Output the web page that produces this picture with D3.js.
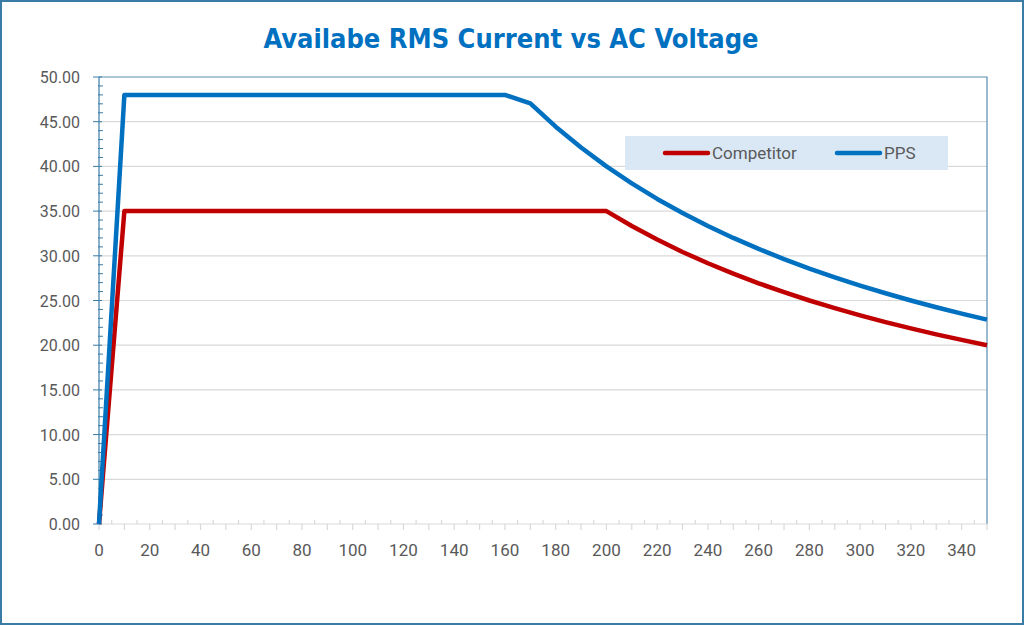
<!DOCTYPE html>
<html>
<head>
<meta charset="utf-8">
<script src="https://cdn.jsdelivr.net/npm/d3@7"></script>
<style>
  body { margin: 0; background: #fff; }
  text { font-family: Roboto, "Liberation Sans", sans-serif; }
</style>
</head>
<body>
<div id="chart"></div>
<script>
// data
var voltage = [0, 10, 20, 30, 40, 50, 60, 70, 80, 90, 100, 110, 120, 130, 140, 150, 160, 170, 180, 190,
  200, 210, 220, 230, 240, 250, 260, 270, 280, 290, 300, 310, 320, 330, 340, 350];
var competitor = [0, 35, 35, 35, 35, 35, 35, 35, 35, 35, 35, 35, 35, 35, 35, 35, 35, 35, 35, 35,
  35, 33.33, 31.82, 30.43, 29.17, 28, 26.92, 25.93, 25, 24.14, 23.33, 22.58, 21.88, 21.21, 20.59, 20];
var pps = [0, 48, 48, 48, 48, 48, 48, 48, 48, 48, 48, 48, 48, 48, 48, 48, 48, 47.06, 44.44, 42.11,
  40, 38.10, 36.36, 34.78, 33.33, 32, 30.77, 29.63, 28.57, 27.59, 26.67, 25.81, 25, 24.24, 23.53, 22.86];
var seriesNames = ["Competitor", "PPS"];
var seriesColors = ["#C00000", "#0070C0"];
var yTicks = [0, 5, 10, 15, 20, 25, 30, 35, 40, 45, 50];
var xTicks = [0, 20, 40, 60, 80, 100, 120, 140, 160, 180, 200, 220, 240, 260, 280, 300, 320, 340];

var width = 1024, height = 625;
var plotLeft = 99, plotRight = 987, plotTop = 77, plotBottom = 524;

var svg = d3.select("#chart").append("svg")
  .attr("width", width)
  .attr("height", height);

// outer frame
svg.append("rect")
  .attr("x", 1).attr("y", 1)
  .attr("width", width - 2).attr("height", height - 2)
  .attr("fill", "#fff")
  .attr("stroke", "#3A7CA5")
  .attr("stroke-width", 2);

svg.append("text")
  .attr("x", 511)
  .attr("y", 48)
  .attr("text-anchor", "middle")
  .style("font-family", "'Liberation Sans Narrow', 'DejaVu Sans Condensed', sans-serif")
  .style("font-weight", "bold")
  .style("font-size", "27px")
  .attr("fill", "#0070C0")
  .text("Availabe RMS Current vs AC Voltage");

var x = d3.scaleLinear().domain([0, 350]).range([plotLeft, plotRight]);
var y = d3.scaleLinear().domain([0, 50]).range([plotBottom, plotTop]);

// gridlines
svg.append("g")
  .selectAll("line")
  .data(yTicks.filter(d => d > 0 && d < 50))
  .enter().append("line")
  .attr("x1", plotLeft).attr("x2", plotRight)
  .attr("y1", d => y(d)).attr("y2", d => y(d))
  .attr("stroke", "#D9D9D9")
  .attr("stroke-width", 1.2);

// top and right border of plot
svg.append("path")
  .attr("d", `M${plotLeft},${y(50)}H${x(350)}V${y(0)}`)
  .attr("fill", "none")
  .attr("stroke", "#5B8DB0")
  .attr("stroke-width", 1.2);

// x axis: minor ticks inside every 5, major outside every 10
var xg = svg.append("g");
xg.append("line")
  .attr("x1", plotLeft).attr("x2", plotRight)
  .attr("y1", plotBottom).attr("y2", plotBottom)
  .attr("stroke", "#D9D9D9")
  .attr("stroke-width", 1.2);
xg.selectAll(".xmaj")
  .data(d3.range(0, 351, 10))
  .enter().append("line")
  .attr("x1", d => x(d)).attr("x2", d => x(d))
  .attr("y1", plotBottom).attr("y2", plotBottom + 6)
  .attr("stroke", "#D9D9D9")
  .attr("stroke-width", 1.2);
xg.selectAll(".xmin")
  .data(d3.range(5, 351, 10))
  .enter().append("line")
  .attr("x1", d => x(d)).attr("x2", d => x(d))
  .attr("y1", plotBottom - 4).attr("y2", plotBottom)
  .attr("stroke", "#D9D9D9")
  .attr("stroke-width", 1.2);
xg.selectAll("text")
  .data(xTicks)
  .enter().append("text")
  .attr("x", d => x(d))
  .attr("y", 556)
  .attr("text-anchor", "middle")
  .attr("fill", "#595959")
  .style("font-size", "17px")
  .text(d => d);

// y axis
var yg = svg.append("g");
yg.selectAll(".ymin")
  .data(d3.range(0, 51, 1).filter(d => d % 5 !== 0))
  .enter().append("line")
  .attr("x1", plotLeft - 1).attr("x2", plotLeft + 4)
  .attr("y1", d => y(d)).attr("y2", d => y(d))
  .attr("stroke", "#3A7CA5");
yg.selectAll(".ymaj")
  .data(yTicks)
  .enter().append("line")
  .attr("x1", plotLeft - 6).attr("x2", plotLeft + 3)
  .attr("y1", d => y(d)).attr("y2", d => y(d))
  .attr("stroke", "#3A7CA5");
yg.append("line")
  .attr("x1", plotLeft).attr("x2", plotLeft)
  .attr("y1", plotTop).attr("y2", plotBottom)
  .attr("stroke", "#3A7CA5")
  .attr("stroke-width", 1.2);
yg.selectAll("text")
  .data(yTicks)
  .enter().append("text")
  .attr("x", 80)
  .attr("y", d => y(d) + 6)
  .attr("text-anchor", "end")
  .attr("fill", "#595959")
  .style("font-size", "16px")
  .text(d => d.toFixed(2));

// lines
var line = d3.line()
  .x(d => x(d[0]))
  .y(d => y(d[1]));

[competitor, pps].forEach(function(vals, i) {
  svg.append("path")
    .datum(voltage.map((v, j) => [v, vals[j]]))
    .attr("d", line)
    .attr("fill", "none")
    .attr("stroke", seriesColors[i])
    .attr("stroke-width", 4.5)
    .attr("stroke-linejoin", "round");
});

// legend
var lg = svg.append("g");
lg.append("rect")
  .attr("x", 625).attr("y", 136)
  .attr("width", 323).attr("height", 34)
  .attr("fill", "#DAE8F5");
var legendX = [665, 837];
seriesNames.forEach(function(name, i) {
  lg.append("line")
    .attr("x1", legendX[i]).attr("x2", legendX[i] + 43)
    .attr("y1", 153).attr("y2", 153)
    .attr("stroke", seriesColors[i])
    .attr("stroke-width", 4.5)
    .attr("stroke-linecap", "round");
  lg.append("text")
    .attr("x", legendX[i] + 47)
    .attr("y", 159)
    .attr("fill", "#595959")
    .style("font-size", "17px")
    .text(name);
});
</script>
</body>
</html>
